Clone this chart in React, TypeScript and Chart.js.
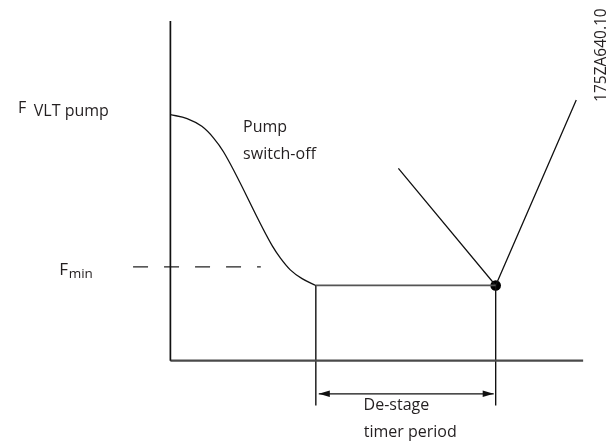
import React, { useEffect, useRef } from "react";
import { Chart, registerables } from "chart.js";

Chart.register(...registerables);

const W = 613;
const H = 445;

// Axis extents (time in s, frequency in arbitrary Hz units)
const axisTimeEnd = 42;
const axisFreqTop = 34.8;

// Minimum frequency reference (dashed)
const fMin = 9.6;
const fMinDashTime = [-3.8, 9.2];

// VLT pump deceleration down to the hold frequency
const decelTime = [0, 1.7, 3.2, 4.4, 5.4, 10.4, 11.2, 12.2, 13.4, 14.8];
const decelFreq = [25.2, 24.8, 24.0, 22.8, 21.4, 11.7, 10.5, 9.3, 8.4, 7.7];

// De-stage timer window
const holdFreq = 7.7;
const destageStart = 14.8;
const destageEnd = 33.1;
const markerBottom = -4.6;
const timerArrowFreq = -3.4;
const timerArrowTime = [15.1, 32.9];

// Pump switch-off event lines
const rampTime = [23.2, 33.1, 41.3];
const rampFreq = [19.7, 7.7, 26.7];

const FONT = "'Open Sans', 'Noto Sans', sans-serif";
const TEXT = "#231f20";

type Label = {
  text: string;
  x: number;
  y: number;
  size: number;
  align: CanvasTextAlign;
  rotate?: boolean;
};

const labels: Label[] = [
  { text: "F", x: -15.5, y: 25.4, size: 16, align: "left" },
  { text: "VLT pump", x: -13.9, y: 25.1, size: 16, align: "left" },
  { text: "F", x: -11.3, y: 8.8, size: 17, align: "left" },
  { text: "min", x: -10.35, y: 8.45, size: 13.5, align: "left" },
  { text: "Pump", x: 7.4, y: 23.4, size: 16, align: "left" },
  { text: "switch-off", x: 7.4, y: 20.7, size: 16, align: "left" },
  { text: "De-stage", x: 23.0, y: -5.1, size: 16, align: "center" },
  { text: "timer period", x: 24.4, y: -7.8, size: 16, align: "center" },
  { text: "175ZA640.10", x: 44.35, y: 31.3, size: 15.5, align: "center", rotate: true },
];

const pts = (xs: number[], ys: number[]) => xs.map((x, i) => ({ x, y: ys[i] }));

const labelPlugin = {
  id: "diagramLabels",
  afterDatasetsDraw(chart: any) {
    const { ctx, scales } = chart;
    ctx.save();
    ctx.fillStyle = TEXT;
    ctx.textBaseline = "alphabetic";
    for (const l of labels) {
      const px = scales.x.getPixelForValue(l.x);
      const py = scales.y.getPixelForValue(l.y);
      ctx.font = `${l.size}px ${FONT}`;
      ctx.textAlign = l.align;
      if (l.rotate) {
        ctx.save();
        ctx.translate(px, py);
        ctx.rotate(-Math.PI / 2);
        ctx.fillText(l.text, 0, 0);
        ctx.restore();
      } else {
        ctx.fillText(l.text, px, py);
      }
    }
    ctx.restore();
  },
};

const arrowPlugin = {
  id: "timerArrowHeads",
  afterDatasetsDraw(chart: any) {
    const { ctx, scales } = chart;
    const y = scales.y.getPixelForValue(timerArrowFreq);
    const x0 = scales.x.getPixelForValue(timerArrowTime[0]);
    const x1 = scales.x.getPixelForValue(timerArrowTime[1]);
    const len = 11;
    const half = 3.3;
    ctx.save();
    ctx.fillStyle = "#111";
    ctx.beginPath();
    ctx.moveTo(x0, y);
    ctx.lineTo(x0 + len, y - half);
    ctx.lineTo(x0 + len, y + half);
    ctx.closePath();
    ctx.fill();
    ctx.beginPath();
    ctx.moveTo(x1, y);
    ctx.lineTo(x1 - len, y - half);
    ctx.lineTo(x1 - len, y + half);
    ctx.closePath();
    ctx.fill();
    ctx.restore();
  },
};

const line = (data: { x: number; y: number }[], extra: any = {}) => ({
  data,
  showLine: true,
  borderColor: "#111",
  borderWidth: 1.4,
  pointRadius: 0,
  fill: false,
  ...extra,
});

export default function App() {
  const ref = useRef<HTMLCanvasElement | null>(null);

  useEffect(() => {
    if (!ref.current) return;
    const chart = new Chart(ref.current, {
      type: "scatter",
      data: {
        datasets: [
          line([{ x: 0, y: 0 }, { x: 0, y: axisFreqTop }], { borderWidth: 1.7 }),
          line([{ x: 0, y: 0 }, { x: axisTimeEnd, y: 0 }], { borderColor: "#4a4a4a", borderWidth: 2.3 }),
          line(
            [
              { x: fMinDashTime[0], y: fMin },
              { x: fMinDashTime[1], y: fMin },
            ],
            { borderDash: [15, 16], borderWidth: 1.2, borderColor: "#222" }
          ),
          line(pts(decelTime, decelFreq), { cubicInterpolationMode: "monotone", borderWidth: 1.3 }),
          line(
            [
              { x: destageStart, y: holdFreq },
              { x: destageEnd, y: holdFreq },
            ],
            { borderColor: "#555", borderWidth: 1.7 }
          ),
          line([
            { x: destageStart, y: holdFreq },
            { x: destageStart, y: markerBottom },
          ]),
          line([
            { x: destageEnd, y: holdFreq },
            { x: destageEnd, y: markerBottom },
          ]),
          line(pts(rampTime, rampFreq), { borderWidth: 1.3 }),
          line(
            [
              { x: timerArrowTime[0], y: timerArrowFreq },
              { x: timerArrowTime[1], y: timerArrowFreq },
            ],
            { borderWidth: 1.3 }
          ),
          {
            data: [{ x: destageEnd, y: holdFreq }],
            showLine: false,
            pointRadius: 5.3,
            pointBackgroundColor: "#000",
            pointBorderColor: "#000",
            pointBorderWidth: 0,
          },
        ],
      },
      options: {
        responsive: false,
        animation: false,
        devicePixelRatio: 1,
        layout: { padding: 0 },
        plugins: {
          legend: { display: false },
          tooltip: { enabled: false },
        },
        events: [],
        scales: {
          x: { type: "linear", min: -16.8, max: 44.5, display: false },
          y: { type: "linear", min: -8.1, max: 36.4, display: false },
        },
      },
      plugins: [labelPlugin, arrowPlugin],
    });
    return () => chart.destroy();
  }, []);

  return (
    <div style={{ position: "fixed", left: 0, top: 0, width: W, height: H, background: "#fff" }}>
      <canvas ref={ref} width={W} height={H} style={{ display: "block" }} />
    </div>
  );
}
